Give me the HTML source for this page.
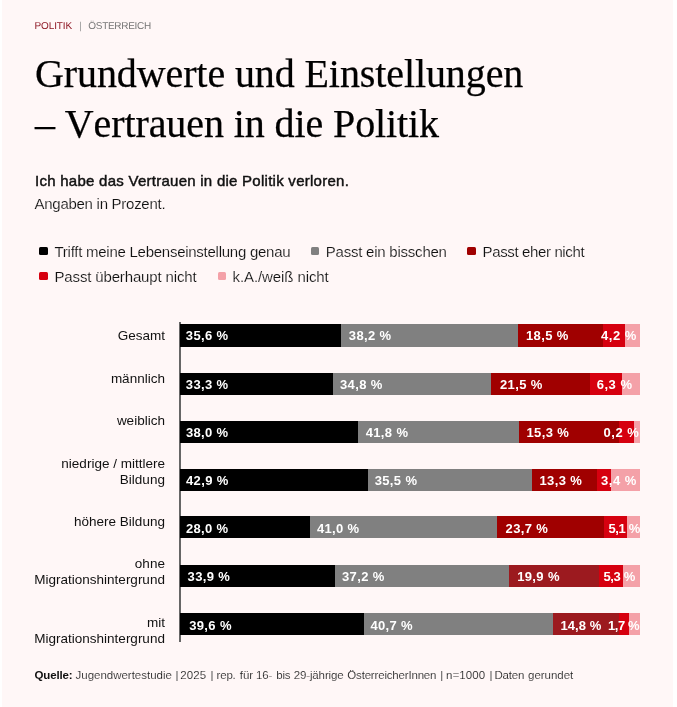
<!DOCTYPE html>
<html lang="de"><head><meta charset="utf-8"><title>Grundwerte und Einstellungen – Vertrauen in die Politik</title>
<style>
html,body{margin:0;padding:0;background:#fff;}
body{width:677px;height:707px;overflow:hidden;position:relative;font-family:"Liberation Sans", Arial, Helvetica, sans-serif;color:#1a1a1a;}
.panel{position:absolute;left:2px;top:0;width:671px;height:707px;background:#fff7f7;}
.t{position:absolute;white-space:nowrap;margin:0;padding:0;}
.kicker{text-rendering:geometricPrecision;font-size:10px;line-height:12px;}
h1{-webkit-text-stroke:0.25px #000;font-kerning:none;font-family:"Liberation Serif", "Times New Roman", Times, serif;font-weight:400;font-size:40px;line-height:50px;color:#000;}
.sub{font-size:15px;line-height:20px;}
.leg{font-size:15px;line-height:20px;color:#111;-webkit-text-stroke:0.16px #fff7f7;}
.sw{position:absolute;width:8.6px;height:8px;border-radius:1.5px;}
.lab{font-size:13.5px;line-height:16px;text-align:right;right:512.1px;color:#111;}
.bar{position:absolute;height:22px;}
.seg{position:absolute;top:0;height:100%;}
.v{font-size:13px;line-height:16px;font-weight:700;color:#fff;letter-spacing:0.36px;}
.axis{position:absolute;left:179px;top:321.8px;width:1.6px;height:320.7px;background:#666;}
.src{font-size:11.5px;line-height:14px;color:#1a1a1a;-webkit-text-stroke:0.14px #fff7f7;}

</style></head><body>
<div class="panel"></div>
<div class="t kicker" style="left:34.6px;top:21.14px;color:#8f1825;letter-spacing:-0.14px">POLITIK</div>
<div class="t kicker" style="left:79.3px;top:20.64px;color:#999;">|</div>
<div class="t kicker" style="left:88.3px;top:21.14px;color:#777;letter-spacing:-0.29px">ÖSTERREICH</div>
<h1 class="t" style="left:35px;top:48.70px;letter-spacing:-0.1px">Grundwerte und Einstellungen<br>– Vertrauen in die Politik</h1>
<div class="t sub" style="left:35px;top:171.20px;font-weight:400;-webkit-text-stroke:0.45px #111;color:#111;letter-spacing:0.26px">Ich habe das Vertrauen in die Politik verloren.</div>
<div class="t sub" style="left:34.5px;top:193.80px;color:#111;-webkit-text-stroke:0.16px #fff7f7;letter-spacing:-0.27px">Angaben in Prozent.</div>
<span class="sw" style="left:39.1px;top:247px;background:#000000"></span>
<div class="t leg" style="left:54.5px;top:241.90px;letter-spacing:-0.26px">Trifft meine Lebenseinstellung genau</div>
<span class="sw" style="left:310.6px;top:247px;background:#808080"></span>
<div class="t leg" style="left:325.8px;top:241.90px;letter-spacing:-0.23px">Passt ein bisschen</div>
<span class="sw" style="left:467.1px;top:247px;background:#a00000"></span>
<div class="t leg" style="left:482.6px;top:241.90px;letter-spacing:-0.37px">Passt eher nicht</div>
<span class="sw" style="left:39.1px;top:272.1px;background:#d6000f"></span>
<div class="t leg" style="left:54.5px;top:266.80px;letter-spacing:-0.15px">Passt überhaupt nicht</div>
<span class="sw" style="left:217.8px;top:272.1px;background:#f4a1a8"></span>
<div class="t leg" style="left:232.6px;top:266.80px;letter-spacing:-0.1px">k.A./weiß nicht</div>
<div class="axis"></div>
<div class="t lab" style="top:328.12px">Gesamt</div>
<div class="t lab" style="top:370.82px">männlich</div>
<div class="t lab" style="top:413.02px">weiblich</div>
<div class="t lab" style="top:455.92px">niedrige / mittlere</div>
<div class="t lab" style="top:471.62px">Bildung</div>
<div class="t lab" style="top:513.82px">höhere Bildung</div>
<div class="t lab" style="top:556.32px">ohne</div>
<div class="t lab" style="top:572.12px">Migrationshintergrund</div>
<div class="t lab" style="top:614.92px">mit</div>
<div class="t lab" style="top:630.62px">Migrationshintergrund</div>
<div class="bar" style="left:0;top:324.4px;width:677px;height:22.4px">
<span class="seg" style="left:180px;width:460.3px;background:#000000"></span>
<span class="seg" style="left:341px;width:299.3px;background:#808080"></span>
<span class="seg" style="left:518.4px;width:121.9px;background:#a00000"></span>
<span class="seg" style="left:602.6px;width:37.7px;background:#d6000f"></span>
<span class="seg" style="left:625.2px;width:15.1px;background:#f4a1a8"></span>
<span class="t v" style="left:185.8px;top:3.30px">35,6 %</span>
<span class="t v" style="left:348.8px;top:3.30px">38,2 %</span>
<span class="t v" style="left:526px;top:3.30px">18,5 %</span>
<span class="t v" style="left:601.0px;top:3.30px;letter-spacing:0.52px">4,2 %</span>
</div>
<div class="bar" style="left:0;top:372.8px;width:677px;height:22.1px">
<span class="seg" style="left:180px;width:460.3px;background:#000000"></span>
<span class="seg" style="left:333.2px;width:307.1px;background:#808080"></span>
<span class="seg" style="left:491.3px;width:149.0px;background:#a00000"></span>
<span class="seg" style="left:590px;width:50.3px;background:#d6000f"></span>
<span class="seg" style="left:622px;width:18.3px;background:#f4a1a8"></span>
<span class="t v" style="left:185.8px;top:4.00px">33,3 %</span>
<span class="t v" style="left:340px;top:4.00px">34,8 %</span>
<span class="t v" style="left:500px;top:4.00px">21,5 %</span>
<span class="t v" style="left:596.7px;top:4.00px;letter-spacing:0.52px">6,3 %</span>
</div>
<div class="bar" style="left:0;top:421.0px;width:677px;height:22.0px">
<span class="seg" style="left:180px;width:460.3px;background:#000000"></span>
<span class="seg" style="left:358.4px;width:281.9px;background:#808080"></span>
<span class="seg" style="left:519px;width:121.3px;background:#a00000"></span>
<span class="seg" style="left:619px;width:21.3px;background:#d6000f"></span>
<span class="seg" style="left:633.8px;width:6.5px;background:#f4a1a8"></span>
<span class="t v" style="left:185.9px;top:3.80px">38,0 %</span>
<span class="t v" style="left:365.7px;top:3.80px">41,8 %</span>
<span class="t v" style="left:526.5px;top:3.80px">15,3 %</span>
<span class="t v" style="left:603.5px;top:3.80px;letter-spacing:0.52px">0,2 %</span>
</div>
<div class="bar" style="left:0;top:469.1px;width:677px;height:21.7px">
<span class="seg" style="left:180px;width:460.3px;background:#000000"></span>
<span class="seg" style="left:367.7px;width:272.6px;background:#808080"></span>
<span class="seg" style="left:531.5px;width:108.8px;background:#a00000"></span>
<span class="seg" style="left:596.8px;width:43.5px;background:#d6000f"></span>
<span class="seg" style="left:610.7px;width:29.6px;background:#f4a1a8"></span>
<span class="t v" style="left:186px;top:3.80px">42,9 %</span>
<span class="t v" style="left:374.7px;top:3.80px">35,5 %</span>
<span class="t v" style="left:539.5px;top:3.80px">13,3 %</span>
<span class="t v" style="left:601.0px;top:3.80px;letter-spacing:0.52px">3,4 %</span>
</div>
<div class="bar" style="left:0;top:516.4px;width:677px;height:22.0px">
<span class="seg" style="left:180px;width:460.3px;background:#000000"></span>
<span class="seg" style="left:309.6px;width:330.7px;background:#808080"></span>
<span class="seg" style="left:497.1px;width:143.2px;background:#a00000"></span>
<span class="seg" style="left:604.3px;width:36.0px;background:#d6000f"></span>
<span class="seg" style="left:627.1px;width:13.2px;background:#f4a1a8"></span>
<span class="t v" style="left:185.9px;top:4.40px">28,0 %</span>
<span class="t v" style="left:316.9px;top:4.40px">41,0 %</span>
<span class="t v" style="left:505.6px;top:4.40px">23,7 %</span>
<span class="t v" style="left:608.4px;top:4.40px;letter-spacing:-0.36px">5,1 %</span>
</div>
<div class="bar" style="left:0;top:564.8px;width:677px;height:21.8px">
<span class="seg" style="left:180px;width:460.3px;background:#000000"></span>
<span class="seg" style="left:335.2px;width:305.1px;background:#808080"></span>
<span class="seg" style="left:509.1px;width:131.2px;background:#9c1a1f"></span>
<span class="seg" style="left:598.7px;width:41.6px;background:#d6000f"></span>
<span class="seg" style="left:622.8px;width:17.5px;background:#f4a1a8"></span>
<span class="t v" style="left:187.6px;top:4.10px">33,9 %</span>
<span class="t v" style="left:342px;top:4.10px">37,2 %</span>
<span class="t v" style="left:517.2px;top:4.10px">19,9 %</span>
<span class="t v" style="left:603.5px;top:4.10px;letter-spacing:-0.36px">5,3 %</span>
</div>
<div class="bar" style="left:0;top:613.1px;width:677px;height:21.9px">
<span class="seg" style="left:180px;width:460.3px;background:#000000"></span>
<span class="seg" style="left:364.1px;width:276.2px;background:#808080"></span>
<span class="seg" style="left:552.9px;width:87.4px;background:#9c1a1f"></span>
<span class="seg" style="left:619px;width:21.3px;background:#d6000f"></span>
<span class="seg" style="left:629px;width:11.3px;background:#f4a1a8"></span>
<span class="t v" style="left:189.2px;top:4.70px">39,6 %</span>
<span class="t v" style="left:370.4px;top:4.70px">40,7 %</span>
<span class="t v" style="left:560.4px;top:4.70px;letter-spacing:0.08px">14,8 %</span>
<span class="t v" style="left:608.0px;top:4.70px;letter-spacing:-0.4px">1,7 %</span>
</div>
<div class="src" style="position:absolute;left:0;top:667.92px;width:677px;height:14px">
<b class="t" style="left:34.5px;top:0;letter-spacing:-0.15px;color:#111;-webkit-text-stroke:0">Quelle:</b> 
<span class="t" style="left:75.5px;top:0;letter-spacing:-0.01px">Jugendwertestudie</span> 
<span class="t" style="left:175.5px;top:0;letter-spacing:0.00px">|</span> 
<span class="t" style="left:180.3px;top:0;letter-spacing:0.13px">2025</span> 
<span class="t" style="left:210.6px;top:0;letter-spacing:0.00px">|</span> 
<span class="t" style="left:216.6px;top:0;letter-spacing:-0.21px">rep.</span> 
<span class="t" style="left:239.7px;top:0;letter-spacing:0.03px">für</span> 
<span class="t" style="left:256.1px;top:0;letter-spacing:-0.24px">16-</span> 
<span class="t" style="left:276.2px;top:0;letter-spacing:-0.17px">bis</span> 
<span class="t" style="left:293.7px;top:0;letter-spacing:-0.13px">29-jährige</span> 
<span class="t" style="left:347.3px;top:0;letter-spacing:-0.18px">ÖsterreicherInnen</span> 
<span class="t" style="left:440.2px;top:0;letter-spacing:0.00px">|</span> 
<span class="t" style="left:445.9px;top:0;letter-spacing:0.12px">n=1000</span> 
<span class="t" style="left:489.4px;top:0;letter-spacing:0.00px">|</span> 
<span class="t" style="left:494.4px;top:0;letter-spacing:-0.18px">Daten</span> 
<span class="t" style="left:528.1px;top:0;letter-spacing:-0.04px">gerundet</span> 
</div>
</body></html>
